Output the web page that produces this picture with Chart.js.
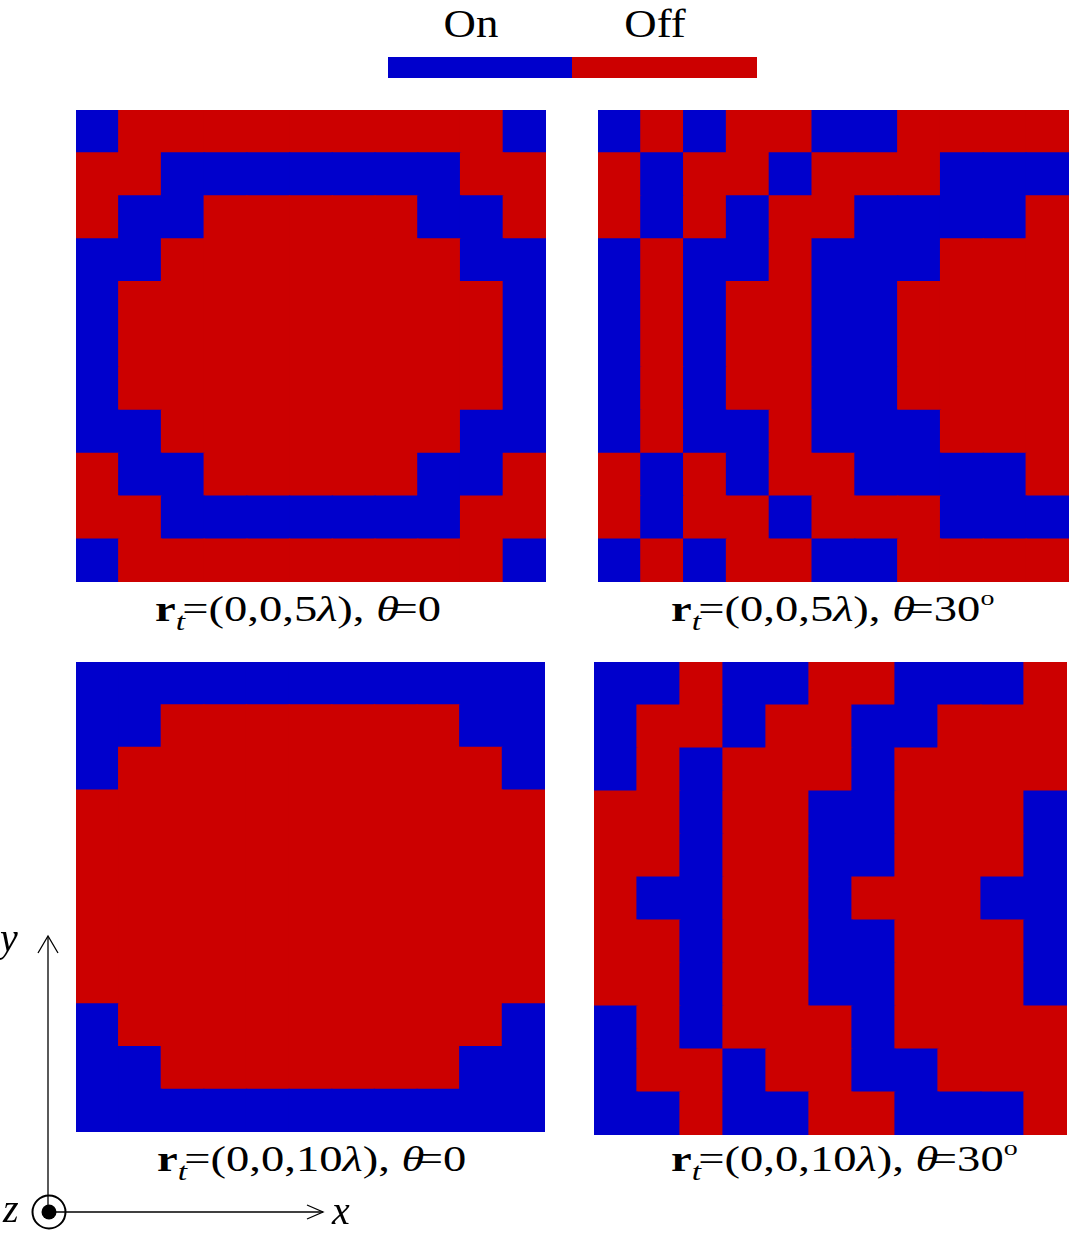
<!DOCTYPE html>
<html>
<head>
<meta charset="utf-8">
<script src="https://cdn.jsdelivr.net/npm/chart.js@4/dist/chart.umd.min.js"></script>
<style>
  html, body { margin: 0; padding: 0; background: #fff; }
  body { width: 1082px; height: 1248px; position: relative; overflow: hidden;
         font-family: "Liberation Serif", "Times New Roman", serif; color: #000; }
  .panel { position: absolute; }
  .legtxt { position: absolute; font-size: 40px; line-height: 40px; transform: scaleX(1.12); transform-origin: center; }
  .cap { position: absolute; font-size: 35px; line-height: 35px; white-space: nowrap;
         transform: scaleX(1.33); transform-origin: left top; }
  .cap .sub { position: relative; top: 0.36em; font-size: 0.72em; font-style: italic; margin-right: -0.08em; }
  .cap .th { font-style: italic; margin-right: -0.16em; }
  .cap sup { font-size: 0.6em; line-height: 0; vertical-align: 0.78em; }
  svg { position: absolute; left: 0; top: 0; }
</style>
</head>
<body>

<!-- colour key -->
<div class="legtxt" style="left:444px;top:4px;width:54px;text-align:center;">On</div>
<div class="legtxt" style="left:624px;top:4px;width:62px;text-align:center;">Off</div>
<div style="position:absolute;left:388px;top:57px;width:184px;height:21px;background:#0000cc;"></div>
<div style="position:absolute;left:572px;top:57px;width:185px;height:21px;background:#cc0000;"></div>

<div class="panel" style="left:76px;top:110px;width:470px;height:472px;"><canvas id="p1"></canvas></div>
<div class="panel" style="left:598px;top:110px;width:471px;height:472px;"><canvas id="p2"></canvas></div>
<div class="panel" style="left:76px;top:662px;width:469px;height:470px;"><canvas id="p3"></canvas></div>
<div class="panel" style="left:594px;top:662px;width:473px;height:473px;"><canvas id="p4"></canvas></div>

<div class="cap" style="left:155px;top:592px;"><b>r</b><span class="sub">t</span>=(0,0,5<i>λ</i>), <span class="th">θ</span>=0</div>
<div class="cap" style="left:671px;top:592px;"><b>r</b><span class="sub">t</span>=(0,0,5<i>λ</i>), <span class="th">θ</span>=30<sup>o</sup></div>
<div class="cap" style="left:157px;top:1142px;"><b>r</b><span class="sub">t</span>=(0,0,10<i>λ</i>), <span class="th">θ</span>=0</div>
<div class="cap" style="left:671px;top:1142px;"><b>r</b><span class="sub">t</span>=(0,0,10<i>λ</i>), <span class="th">θ</span>=30<sup>o</sup></div>

<!-- coordinate triad -->
<svg width="1082" height="1248">
  <g stroke="#000" stroke-width="1.3" fill="none">
    <line x1="48" y1="937" x2="48" y2="1212"/>
    <polyline points="38,953 48,936 58,953"/>
    <line x1="49" y1="1212" x2="323" y2="1212"/>
    <polyline points="307,1205 323,1212 307,1219"/>
    <circle cx="49" cy="1212" r="16.5" stroke-width="2"/>
  </g>
  <circle cx="49" cy="1212" r="7.5" fill="#000"/>
  <g font-family="Liberation Serif, Times New Roman, serif" font-style="italic" font-size="40">
    <text x="0" y="951">y</text>
    <text x="3" y="1222">z</text>
    <text x="332" y="1224">x</text>
  </g>
</svg>

<script>
const ON_COLOR = "#0000cc";
const OFF_COLOR = "#cc0000";

const columns = ["1", "2", "3", "4", "5", "6", "7", "8", "9", "10", "11"];

// 1 = On (blue), 0 = Off (red); rows listed top to bottom
const gridZ5Theta0 = [
  [1,0,0,0,0,0,0,0,0,0,1],
  [0,0,1,1,1,1,1,1,1,0,0],
  [0,1,1,0,0,0,0,0,1,1,0],
  [1,1,0,0,0,0,0,0,0,1,1],
  [1,0,0,0,0,0,0,0,0,0,1],
  [1,0,0,0,0,0,0,0,0,0,1],
  [1,0,0,0,0,0,0,0,0,0,1],
  [1,1,0,0,0,0,0,0,0,1,1],
  [0,1,1,0,0,0,0,0,1,1,0],
  [0,0,1,1,1,1,1,1,1,0,0],
  [1,0,0,0,0,0,0,0,0,0,1]
];

const gridZ5Theta30 = [
  [1,0,1,0,0,1,1,0,0,0,0],
  [0,1,0,0,1,0,0,0,1,1,1],
  [0,1,0,1,0,0,1,1,1,1,0],
  [1,0,1,1,0,1,1,1,0,0,0],
  [1,0,1,0,0,1,1,0,0,0,0],
  [1,0,1,0,0,1,1,0,0,0,0],
  [1,0,1,0,0,1,1,0,0,0,0],
  [1,0,1,1,0,1,1,1,0,0,0],
  [0,1,0,1,0,0,1,1,1,1,0],
  [0,1,0,0,1,0,0,0,1,1,1],
  [1,0,1,0,0,1,1,0,0,0,0]
];

const gridZ10Theta0 = [
  [1,1,1,1,1,1,1,1,1,1,1],
  [1,1,0,0,0,0,0,0,0,1,1],
  [1,0,0,0,0,0,0,0,0,0,1],
  [0,0,0,0,0,0,0,0,0,0,0],
  [0,0,0,0,0,0,0,0,0,0,0],
  [0,0,0,0,0,0,0,0,0,0,0],
  [0,0,0,0,0,0,0,0,0,0,0],
  [0,0,0,0,0,0,0,0,0,0,0],
  [1,0,0,0,0,0,0,0,0,0,1],
  [1,1,0,0,0,0,0,0,0,1,1],
  [1,1,1,1,1,1,1,1,1,1,1]
];

const gridZ10Theta30 = [
  [1,1,0,1,1,0,0,1,1,1,0],
  [1,0,0,1,0,0,1,1,0,0,0],
  [1,0,1,0,0,0,1,0,0,0,0],
  [0,0,1,0,0,1,1,0,0,0,1],
  [0,0,1,0,0,1,1,0,0,0,1],
  [0,1,1,0,0,1,0,0,0,1,1],
  [0,0,1,0,0,1,1,0,0,0,1],
  [0,0,1,0,0,1,1,0,0,0,1],
  [1,0,1,0,0,0,1,0,0,0,0],
  [1,0,0,1,0,0,1,1,0,0,0],
  [1,1,0,1,1,0,0,1,1,1,0]
];

function makePanel(id, grid) {
  // stacked bars: one dataset per grid row, bottom row first
  const datasets = [];
  for (let r = grid.length - 1; r >= 0; r--) {
    datasets.push({
      data: grid[r].map(() => 1),
      backgroundColor: grid[r].map((v) => (v ? ON_COLOR : OFF_COLOR)),
      borderWidth: 0,
      inflateAmount: 0.6,
      barPercentage: 1,
      categoryPercentage: 1
    });
  }

  new Chart(document.getElementById(id), {
    type: "bar",
    data: { labels: columns, datasets },
    options: {
      animation: false,
      responsive: true,
      maintainAspectRatio: false,
      events: [],
      layout: { padding: 0 },
      plugins: { legend: { display: false }, tooltip: { enabled: false } },
      scales: {
        x: { stacked: true, display: false },
        y: { stacked: true, display: false, min: 0, max: grid.length }
      }
    }
  });
}

makePanel("p1", gridZ5Theta0);
makePanel("p2", gridZ5Theta30);
makePanel("p3", gridZ10Theta0);
makePanel("p4", gridZ10Theta30);
</script>
</body>
</html>
